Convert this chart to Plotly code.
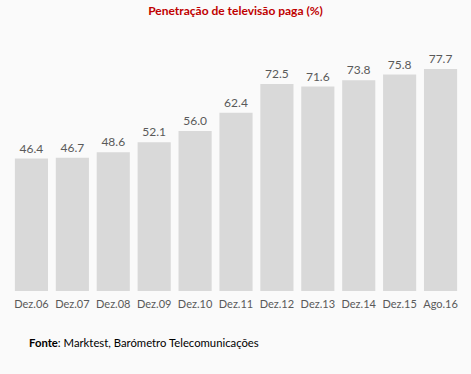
import plotly.graph_objects as go

categories = ["Dez.06", "Dez.07", "Dez.08", "Dez.09", "Dez.10", "Dez.11",
              "Dez.12", "Dez.13", "Dez.14", "Dez.15", "Ago.16"]
values = [46.4, 46.7, 48.6, 52.1, 56.0, 62.4, 72.5, 71.6, 73.8, 75.8, 77.7]
labels = [f"{v:.1f}" for v in values]

W, H = 471, 374
L, R, T, B = 11, 10, 34, 83
PW, PH = W - L - R, H - T - B
FONT = "Lato"

fig = go.Figure(go.Bar(
    x=categories, y=values, text=labels, textposition="outside",
    textfont=dict(size=12, color="#595959", family=FONT),
    marker=dict(color="#d9d9d9", line=dict(width=0)),
    cliponaxis=False,
))
fig.update_layout(
    width=W, height=H,
    margin=dict(l=L, r=R, t=T, b=B),
    paper_bgcolor="#fafafa", plot_bgcolor="#fafafa",
    bargap=0.19,
    showlegend=False,
    font=dict(family=FONT, color="#595959"),
    title=dict(text="<b>Penetração de televisão paga (%)</b>", x=0.5, xanchor="center",
               y=1 - 11 / H, yanchor="middle",
               font=dict(size=12, color="#c00000", family=FONT)),
    xaxis=dict(showgrid=False, showline=False, ticks="", ticklabelstandoff=5,
               tickfont=dict(size=11, color="#595959")),
    yaxis=dict(visible=False, range=[0, 90]),
    annotations=[
        dict(text="<b>Fonte</b>: Marktest, Barómetro Telecomunicações",
             x=(27 - L) / PW, y=(H - B - 342) / PH,
             xref="paper", yref="paper", xanchor="left", yanchor="middle",
             showarrow=False, font=dict(size=11.3, color="#000000", family=FONT)),
    ],
)
fig.write_html("out.html", config={"displayModeBar": False},
               post_script="document.body.style.margin='0';")
